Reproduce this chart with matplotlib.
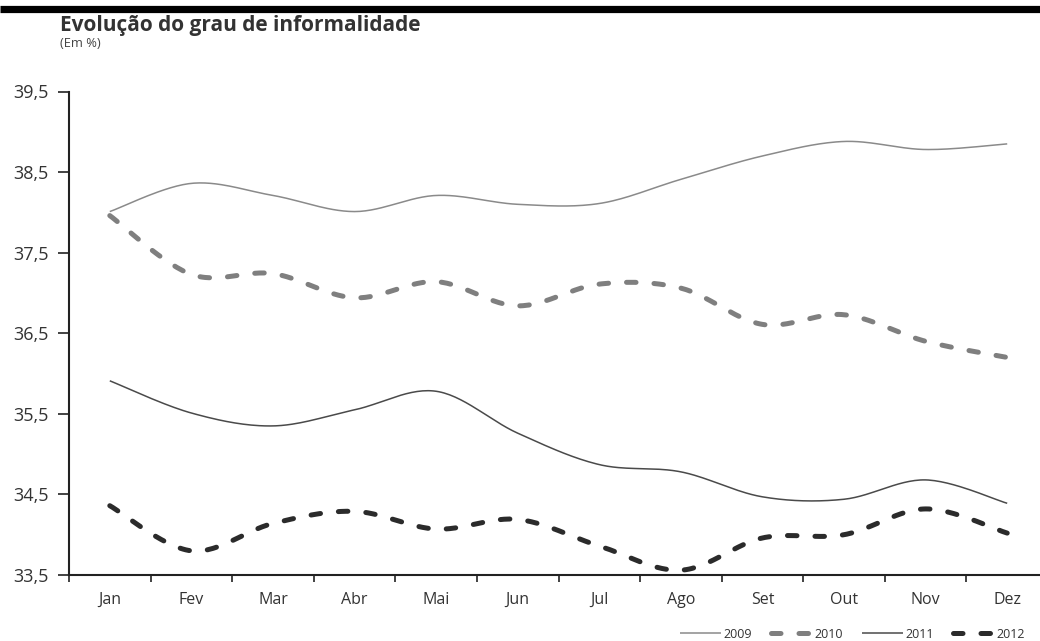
import numpy as np
import matplotlib
matplotlib.use("Agg")
import matplotlib.pyplot as plt
from matplotlib.lines import Line2D

plt.rcParams['font.family'] = ['Open Sans', 'DejaVu Sans']

months = ["Jan", "Fev", "Mar", "Abr", "Mai", "Jun",
          "Jul", "Ago", "Set", "Out", "Nov", "Dez"]
series_names = ["2009", "2010", "2011", "2012"]
v2009 = [38.01, 38.36, 38.21, 38.01, 38.21, 38.10, 38.11, 38.41, 38.70, 38.88, 38.78, 38.85]
v2010 = [37.96, 37.23, 37.24, 36.94, 37.14, 36.84, 37.11, 37.06, 36.61, 36.73, 36.40, 36.20]
v2011 = [35.91, 35.51, 35.35, 35.55, 35.78, 35.26, 34.87, 34.78, 34.47, 34.44, 34.68, 34.39]
v2012 = [34.36, 33.80, 34.14, 34.29, 34.07, 34.19, 33.86, 33.56, 33.96, 34.00, 34.32, 34.02]
y_ticks = [33.5, 34.5, 35.5, 36.5, 37.5, 38.5, 39.5]


def smooth(xs, ys, n=30):
    """Smoothed curve through the points (Bezier with Catmull-Rom tangents)."""
    p = np.column_stack([xs, ys]).astype(float)
    out = []
    for i in range(len(p) - 1):
        p0 = p[i - 1] if i > 0 else p[i]
        p1, p2 = p[i], p[i + 1]
        p3 = p[i + 2] if i + 2 < len(p) else p[i + 1]
        c1 = p1 + (p2 - p0) / 6.0
        c2 = p2 - (p3 - p1) / 6.0
        t = np.linspace(0, 1, n, endpoint=(i == len(p) - 2))[:, None]
        seg = ((1 - t) ** 3) * p1 + 3 * ((1 - t) ** 2) * t * c1 + 3 * (1 - t) * t ** 2 * c2 + t ** 3 * p2
        out.append(seg)
    seg = np.vstack(out)
    return seg[:, 0], seg[:, 1]


W, H = 1040, 641
fig = plt.figure(figsize=(W / 100, H / 100), dpi=100)
fig.patch.set_facecolor("white")

ax_left, ax_right, ax_bottom, ax_top = 69, 1048, 575, 91.5
ax = fig.add_axes([ax_left / W, 1 - ax_bottom / H,
                   (ax_right - ax_left) / W, (ax_bottom - ax_top) / H])
ax.set_facecolor("white")

x = np.arange(len(months))
dash = (0, (1.9, 3.6))
styles = {
    "2009": dict(color="#8a8a8a", lw=1.1, ls="-"),
    "2010": dict(color="#7f7f7f", lw=3.6, ls=dash),
    "2011": dict(color="#4a4a4a", lw=1.1, ls="-"),
    "2012": dict(color="#2b2b2b", lw=3.6, ls=dash),
}
handles = []
for name, vals in zip(series_names, [v2009, v2010, v2011, v2012]):
    sx, sy = smooth(x, vals)
    st = styles[name]
    ln, = ax.plot(sx, sy, color=st["color"], lw=st["lw"], linestyle=st["ls"],
                  dash_capstyle="round", solid_capstyle="butt", label=name)
    handles.append(ln)

ax.set_xlim(-0.5, len(months) - 0.5)
ax.set_ylim(33.5, 39.5)
ax.set_yticks(y_ticks)
ax.set_yticklabels([f"{v:.1f}".replace(".", ",") for v in y_ticks])
ax.set_xticks(x)
ax.set_xticklabels(months)
ax.set_xticks(np.arange(-0.5, len(months) + 0.5, 1.0), minor=True)
ax.tick_params(axis="x", which="major", length=0, pad=12, labelsize=11.5, labelcolor="#333333")
ax.tick_params(axis="x", which="minor", length=5, width=1.2, color="#222222")
ax.tick_params(axis="y", length=8, width=1.2, color="#222222", pad=6.5,
               labelsize=13, labelcolor="#333333")
for side in ("top", "right"):
    ax.spines[side].set_visible(False)
for side in ("left", "bottom"):
    ax.spines[side].set_color("#222222")
    ax.spines[side].set_linewidth(1.5)

# Heading
fig.add_artist(Line2D([0, 1], [1 - 8.5 / H, 1 - 8.5 / H], transform=fig.transFigure,
                      color="black", lw=5.2, solid_capstyle="butt"))
fig.text(60 / W, 1 - 15 / H, "Evolução do grau de informalidade", ha="left", va="top",
         fontsize=15, fontweight="bold", color="#333333")
fig.text(60 / W, 1 - 37 / H, "(Em %)", ha="left", va="top", fontsize=9.3, color="#444444")

fig.legend(handles=handles, loc="center right", bbox_to_anchor=(1036 / W, 1 - 634 / H),
           ncol=4, frameon=False, fontsize=9, handlelength=3.3, handletextpad=0.2,
           columnspacing=1.5, labelcolor="#333333")

fig.savefig("out.png", dpi=100, facecolor="white")
